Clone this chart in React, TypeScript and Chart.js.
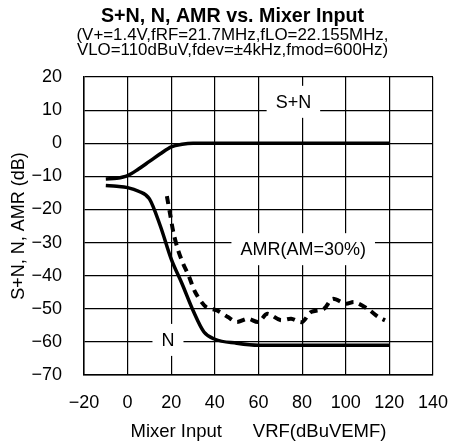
import React, { useEffect, useRef } from "react";
import { Chart, registerables } from "chart.js";

Chart.register(...registerables);

const FONT = "'Liberation Sans', Arial, sans-serif";

const titleLines = [
  "S+N, N, AMR vs. Mixer Input",
  "(V+=1.4V,fRF=21.7MHz,fLO=22.155MHz,",
  "VLO=110dBuV,fdev=\u00b14kHz,fmod=600Hz)",
];

const xTicks = [-20, 0, 20, 40, 60, 80, 100, 120, 140];
const yTicks = [-70, -60, -50, -40, -30, -20, -10, 0, 10, 20];

const snX = [-10, -5, 0, 5, 10, 15, 20, 25, 30, 40, 50, 60, 70, 80, 90, 100, 110, 120];
const snY = [-10.8, -10.6, -9.8, -7.8, -5.5, -3.2, -1.1, -0.3, 0, 0, 0, 0, 0, 0, 0, 0, 0, 0];

const nX = [-10, -5, 0, 5, 10, 15, 20, 25, 30, 35, 40, 50, 60, 70, 80, 90, 100, 110, 120];
const nY = [-12.8, -13, -13.4, -14.5, -16.8, -25, -35, -42.5, -50.5, -57, -59.2, -60.4, -61, -61, -61, -61, -61, -61, -61];

const amrX = [18, 19.5, 21, 23, 25.5, 28, 31, 36, 41, 46, 50, 55, 60, 64, 70, 75, 80, 84, 90, 94, 100, 104, 110, 115, 118];
const amrY = [-16, -21.5, -27, -32, -36.5, -40, -45, -49.5, -50.5, -52.5, -54, -53, -54, -51.5, -53.4, -53, -54, -51, -50, -47, -48.5, -48, -50, -52.5, -53.5];

const noteTexts = ["S+N", "AMR(AM=30%)", "N"];
const noteX = [76, 80.5, 18.5];
const noteY = [12.5, -32, -59.4];

const pts = (xs: number[], ys: number[]) => xs.map((x, i) => ({ x, y: ys[i] }));
const fmt = (v: number) => (v < 0 ? "\u2212" + Math.abs(v) : String(v));

const titlePlugin = {
  id: "titles",
  afterDraw(chart: any) {
    const ctx = chart.ctx;
    ctx.save();
    ctx.fillStyle = "#000";
    ctx.textAlign = "center";
    ctx.textBaseline = "middle";
    ctx.font = `bold 19.7px ${FONT}`;
    ctx.fillText(titleLines[0], 232.5, 17);
    ctx.font = `16.9px ${FONT}`;
    ctx.fillText(titleLines[1], 232.5, 35.5);
    ctx.fillText(titleLines[2], 232.5, 50.5);
    ctx.restore();
  },
};

const notesPlugin = {
  id: "notes",
  beforeDatasetsDraw(chart: any) {
    const ctx = chart.ctx;
    const xs = chart.scales.x;
    const ys = chart.scales.y;
    ctx.save();
    ctx.font = `18px ${FONT}`;
    ctx.textAlign = "center";
    ctx.textBaseline = "middle";
    noteTexts.forEach((t, i) => {
      const px = xs.getPixelForValue(noteX[i]);
      const py = ys.getPixelForValue(noteY[i]);
      const w = ctx.measureText(t).width + 18;
      const h = 32;
      ctx.fillStyle = "#fff";
      ctx.fillRect(px - w / 2, py - h / 2, w, h);
      ctx.fillStyle = "#000";
      ctx.fillText(t, px, py + 1);
    });
    ctx.restore();
  },
};

export default function App() {
  const ref = useRef<HTMLCanvasElement>(null);
  useEffect(() => {
    if (!ref.current) return;
    const chart = new Chart(ref.current, {
      type: "scatter",
      data: {
        datasets: [
          {
            label: "S+N",
            data: pts(snX, snY),
            showLine: true,
            borderColor: "#000",
            borderWidth: 3.5,
            pointRadius: 0,
            cubicInterpolationMode: "monotone",
          },
          {
            label: "N",
            data: pts(nX, nY),
            showLine: true,
            borderColor: "#000",
            borderWidth: 3.5,
            pointRadius: 0,
            cubicInterpolationMode: "monotone",
          },
          {
            label: "AMR(AM=30%)",
            data: pts(amrX, amrY),
            showLine: true,
            borderColor: "#000",
            borderWidth: 4,
            borderDash: [8, 6],
            pointRadius: 0,
            tension: 0.3,
          },
        ] as any,
      },
      options: {
        animation: false,
        responsive: false,
        layout: { padding: { top: 77, right: 17, left: 0, bottom: 0 } },
        plugins: { legend: { display: false }, tooltip: { enabled: false }, title: { display: false } },
        scales: {
          x: {
            type: "linear",
            min: -20,
            max: 140,
            afterFit: (s: any) => {
              s.height = 70;
            },
            afterBuildTicks: (s: any) => {
              s.ticks = xTicks.map((v) => ({ value: v }));
            },
            ticks: {
              callback: (v: any) => fmt(Number(v)),
              color: "#000",
              font: { family: FONT, size: 18 },
              padding: 17,
              maxRotation: 0,
            },
            grid: { color: "#000", lineWidth: 1.2, drawTicks: false },
            border: { display: true, color: "#000", width: 1.5 },
            title: {
              display: true,
              text: "Mixer Input      VRF(dBuVEMF)",
              color: "#000",
              font: { family: FONT, size: 18.5 },
              padding: { top: 0, bottom: 2 },
            },
          },
          y: {
            type: "linear",
            min: -70,
            max: 20,
            afterFit: (s: any) => {
              s.width = 84;
            },
            afterBuildTicks: (s: any) => {
              s.ticks = yTicks.map((v) => ({ value: v }));
            },
            ticks: {
              callback: (v: any) => fmt(Number(v)),
              color: "#000",
              font: { family: FONT, size: 18 },
              padding: 22,
            },
            grid: { color: "#000", lineWidth: 1.2, drawTicks: false },
            border: { display: true, color: "#000", width: 1.5 },
            title: {
              display: true,
              text: "S+N, N, AMR (dB)",
              color: "#000",
              font: { family: FONT, size: 18 },
              padding: { top: 8, bottom: 0 },
            },
          },
        },
      } as any,
      plugins: [titlePlugin, notesPlugin],
    });
    return () => chart.destroy();
  }, []);
  return (
    <div style={{ position: "fixed", left: 0, top: 0, width: 465, height: 445, background: "#fff" }}>
      <canvas ref={ref} width={465} height={445} style={{ width: 465, height: 445, display: "block" }} />
    </div>
  );
}
